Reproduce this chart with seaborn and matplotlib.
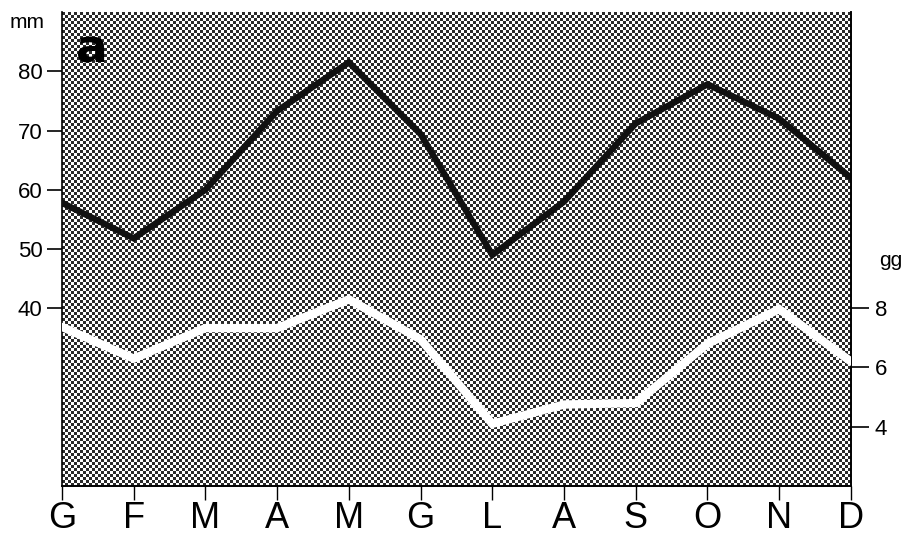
import numpy as np
import pandas as pd
import matplotlib
matplotlib.use("Agg")
import matplotlib.pyplot as plt
import seaborn as sns

# ---- data ----
months = ["G", "F", "M", "A", "M", "G", "L", "A", "S", "O", "N", "D"]
rain_mm = [57.8, 51.8, 60.0, 73.3, 81.5, 69.4, 49.0, 58.0, 71.2, 77.8, 72.0, 62.0]
rain_days = [7.37, 6.3, 7.33, 7.33, 8.3, 6.95, 4.1, 4.75, 4.8, 6.8, 7.97, 6.2]
mm_ticks = [40, 50, 60, 70, 80]
gg_ticks = [4, 6, 8]

df = pd.DataFrame({"idx": np.arange(len(months)), "month": months,
                   "mm": rain_mm, "gg": rain_days})

sns.set_style("white")
plt.rcParams["font.family"] = ["Liberation Sans", "DejaVu Sans"]
plt.rcParams["text.color"] = "black"
plt.rcParams["xtick.color"] = "black"
plt.rcParams["ytick.color"] = "black"

fig = plt.figure(figsize=(9.1, 5.34), dpi=100)
ax = fig.add_axes([0.0681, 0.0899, 0.8670, 0.8876])
ax.set_xlim(0, 11)
ax.set_ylim(10, 90)

# halftone-like dotted background (texture only)
ny, nx = 158, 263
yy, xx = np.mgrid[0:ny, 0:nx]
tex = ((xx + yy) % 2).astype(float)
ax.imshow(tex, cmap="gray", vmin=-0.2, vmax=1.0, interpolation="nearest",
          extent=[0, 11, 10, 90], aspect="auto", zorder=0)

sns.lineplot(data=df, x="idx", y="mm", ax=ax, color="#111111", lw=4.6,
             zorder=3, solid_joinstyle="miter")

ax2 = ax.twinx()
ax2.set_ylim(2, 18)
sns.lineplot(data=df, x="idx", y="gg", ax=ax2, color="white", lw=6,
             zorder=3, solid_joinstyle="miter")

# axes styling
for a in (ax, ax2):
    a.set_xlabel("")
    a.set_ylabel("")
    a.spines["top"].set_visible(False)
    for s in ("left", "right", "bottom"):
        a.spines[s].set_color("black")
        a.spines[s].set_linewidth(1.2)
ax2.spines["left"].set_visible(False)

ax.set_xticks(df["idx"])
ax.set_xticklabels(months, fontsize=26)
ax.tick_params(axis="x", direction="out", length=10, width=1, color="black",
               pad=0.5, bottom=True)
ax.set_yticks(mm_ticks)
ax.set_yticklabels([str(t) for t in mm_ticks], fontsize=16)
ax.tick_params(axis="y", direction="out", length=11, width=1.2, color="black",
               pad=3, left=True)

ax2.set_yticks(gg_ticks)
ax2.set_yticklabels([str(t) for t in gg_ticks], fontsize=16)
ax2.tick_params(axis="y", direction="out", length=13, width=1.2, color="black",
                pad=4, right=True)

# units and panel letter
fig.text(0.010, 0.958, "mm", fontsize=15, ha="left", va="center")
fig.text(0.966, 0.512, "gg", fontsize=15, ha="left", va="center")
ax.text(0.018, 0.968, "a", transform=ax.transAxes, fontsize=34,
        fontweight="bold", family="DejaVu Sans", ha="left", va="top",
        color="black", zorder=5)

fig.savefig("out.png", dpi=100)
